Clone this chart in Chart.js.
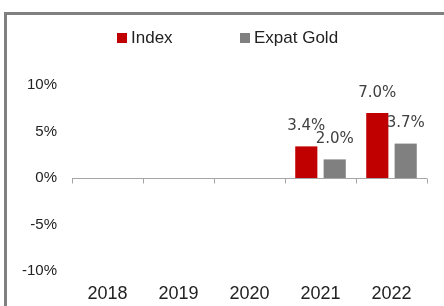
<!DOCTYPE html>
<html>
<head>
<meta charset="utf-8">
<script src="https://cdn.jsdelivr.net/npm/chart.js@4.4.0/dist/chart.umd.min.js"></script>
<style>
  html, body { margin: 0; padding: 0; background: #fff; }
  #wrap { position: relative; width: 444px; height: 306px; overflow: hidden; }
  #frame { position: absolute; left: 4px; top: 12px; width: 600px; height: 400px;
           border-left: 3px solid #808080; border-top: 3px solid #808080; box-sizing: border-box; }
  canvas { position: absolute; left: 0; top: 0; }
</style>
</head>
<body>
<div id="wrap">
  <div id="frame"></div>
  <canvas id="c" width="444" height="306"></canvas>
</div>
<script>
const categories = ['2018', '2019', '2020', '2021', '2022'];
const indexValues = [null, null, null, 3.4, 7.0];
const expatGoldValues = [null, null, null, 2.0, 3.7];
const seriesNames = ['Index', 'Expat Gold'];
const seriesColors = ['#C00000', '#808080'];
const yTicks = { min: -10, max: 10, step: 5 };

const zeroLinePlugin = {
  id: 'zeroLine',
  afterDatasetsDraw(chart) {
    const ctx = chart.ctx, xs = chart.scales.x, ys = chart.scales.y;
    const y0 = Math.round(ys.getPixelForValue(0)) + 0.5;
    const n = categories.length;
    const step = (xs.right - xs.left) / n;
    ctx.save();
    ctx.strokeStyle = '#a6a6a6';
    ctx.lineWidth = 1;
    ctx.beginPath();
    ctx.moveTo(xs.left, y0);
    ctx.lineTo(xs.right, y0);
    for (let i = 0; i <= n; i++) {
      const x = Math.round(xs.getPixelForValue(0) - step / 2 + i * step) + 0.5;
      ctx.moveTo(x, y0);
      ctx.lineTo(x, y0 + 5);
    }
    ctx.stroke();
    ctx.restore();
  }
};

const valueLabelPlugin = {
  id: 'valueLabels',
  afterDatasetsDraw(chart) {
    const ctx = chart.ctx;
    ctx.save();
    ctx.font = '15px "DejaVu Sans"';
    ctx.fillStyle = '#404040';
    ctx.textAlign = 'center';
    ctx.textBaseline = 'middle';
    chart.data.datasets.forEach((ds, di) => {
      const meta = chart.getDatasetMeta(di);
      meta.data.forEach((el, i) => {
        const v = ds.data[i];
        if (v === null || v === undefined) return;
        ctx.fillText(v.toFixed(1) + '%', el.x, el.y - 20);
      });
    });
    ctx.restore();
  }
};

const legendPlugin = {
  id: 'customLegend',
  afterDraw(chart) {
    const ctx = chart.ctx;
    ctx.save();
    ctx.font = '17px "Liberation Sans", Arial, sans-serif';
    ctx.textBaseline = 'middle';
    ctx.textAlign = 'left';
    const positions = [117, 240];
    const cy = 38;
    chart.data.datasets.forEach((ds, di) => {
      const x = positions[di];
      ctx.fillStyle = ds.backgroundColor;
      ctx.fillRect(x, cy - 5, 10, 10);
      ctx.fillStyle = '#222';
      ctx.fillText(ds.label, x + 14, cy);
    });
    ctx.restore();
  }
};

new Chart(document.getElementById('c'), {
  type: 'bar',
  data: {
    labels: categories,
    datasets: [
      { label: seriesNames[0], data: indexValues, backgroundColor: seriesColors[0] },
      { label: seriesNames[1], data: expatGoldValues, backgroundColor: seriesColors[1] }
    ]
  },
  options: {
    responsive: false,
    animation: false,
    devicePixelRatio: 1,
    categoryPercentage: 0.8,
    barPercentage: 0.78,
    layout: { padding: { top: 85, right: 17, bottom: 0, left: 0 } },
    plugins: { legend: { display: false }, tooltip: { enabled: false } },
    scales: {
      x: {
        grid: { display: false },
        border: { display: false },
        ticks: { color: '#222', font: { size: 18, family: '"Liberation Sans", Arial, sans-serif' }, padding: 4 },
        afterFit(s) { s.height = 35; }
      },
      y: {
        min: yTicks.min, max: yTicks.max,
        grid: { display: false, drawTicks: false },
        border: { display: false },
        ticks: {
          stepSize: yTicks.step,
          padding: 15,
          color: '#222',
          font: { size: 15, family: '"Liberation Sans", Arial, sans-serif' },
          callback: v => v + '%'
        },
        afterFit(s) { s.width = 72; }
      }
    }
  },
  plugins: [zeroLinePlugin, valueLabelPlugin, legendPlugin]
});
</script>
</body>
</html>
